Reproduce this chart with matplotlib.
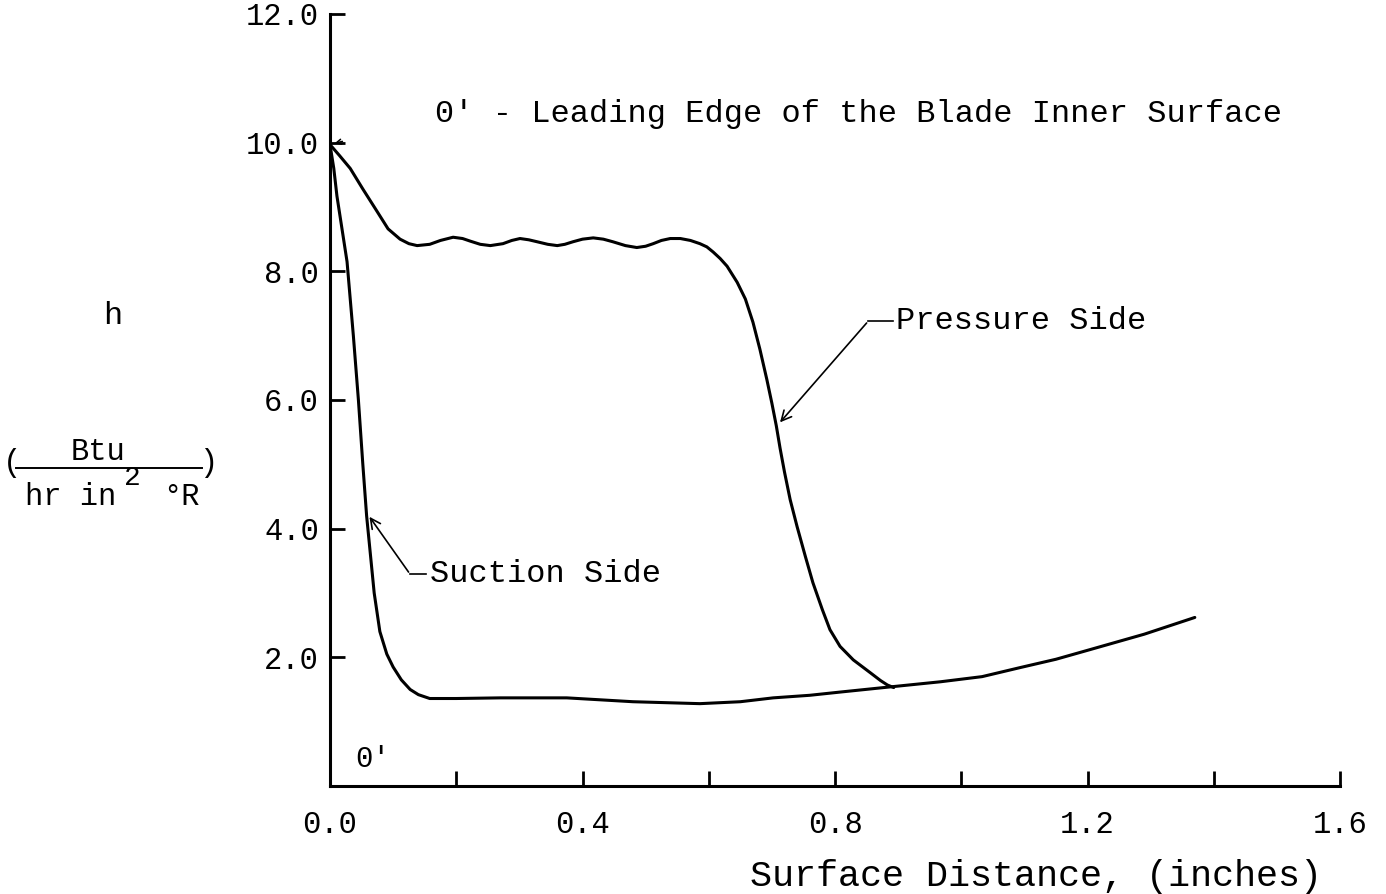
import matplotlib
matplotlib.use("Agg")
import matplotlib.pyplot as plt
from matplotlib.lines import Line2D

# data
suction_x = [0.0, 0.006, 0.011, 0.019, 0.027, 0.037, 0.045, 0.052, 0.058, 0.063,
             0.070, 0.079, 0.090, 0.100, 0.113, 0.127, 0.140, 0.158, 0.200, 0.270,
             0.375, 0.480, 0.586, 0.650, 0.702, 0.760, 0.808, 0.887, 0.967, 1.033,
             1.093, 1.150, 1.204, 1.290, 1.370]
suction_h = [9.97, 9.60, 9.17, 8.66, 8.15, 7.00, 6.00, 5.00, 4.20, 3.70,
             3.00, 2.40, 2.05, 1.85, 1.65, 1.50, 1.42, 1.36, 1.36, 1.37,
             1.37, 1.31, 1.28, 1.31, 1.37, 1.41, 1.46, 1.54, 1.62, 1.70,
             1.84, 1.97, 2.12, 2.36, 2.62]

pressure_x = [0.0, 0.015, 0.032, 0.052, 0.074, 0.092, 0.111, 0.125, 0.138, 0.158,
              0.175, 0.195, 0.210, 0.222, 0.238, 0.254, 0.274, 0.288, 0.301, 0.315,
              0.328, 0.345, 0.360, 0.372, 0.385, 0.400, 0.417, 0.433, 0.448, 0.468,
              0.486, 0.500, 0.512, 0.525, 0.539, 0.555, 0.571, 0.586, 0.597, 0.607,
              0.618, 0.629, 0.645, 0.658, 0.670, 0.681, 0.692, 0.700, 0.707, 0.713,
              0.720, 0.729, 0.740, 0.753, 0.765, 0.780, 0.792, 0.808, 0.829, 0.856,
              0.872, 0.883, 0.893]
pressure_h = [9.97, 9.80, 9.60, 9.28, 8.94, 8.66, 8.50, 8.43, 8.40, 8.42,
              8.48, 8.53, 8.51, 8.47, 8.42, 8.40, 8.43, 8.48, 8.51, 8.49,
              8.46, 8.42, 8.40, 8.42, 8.46, 8.50, 8.52, 8.50, 8.46, 8.40,
              8.37, 8.39, 8.43, 8.48, 8.51, 8.51, 8.48, 8.43, 8.38, 8.30,
              8.20, 8.08, 7.83, 7.57, 7.21, 6.79, 6.32, 5.95, 5.60, 5.25,
              4.88, 4.45, 4.03, 3.57, 3.16, 2.74, 2.43, 2.17, 1.96, 1.76,
              1.64, 1.57, 1.53]

x_ticks = [0.0, 0.2, 0.4, 0.6, 0.8, 1.0, 1.2, 1.4, 1.6]
x_labels = ["0.0", "", "0.4", "", "0.8", "", "1.2", "", "1.6"]
y_ticks = [2.0, 4.0, 6.0, 8.0, 10.0, 12.0]
y_labels = ["2.0", "4.0", "6.0", "8.0", "10.0", "12.0"]

FONT = "Liberation Mono"
W, H = 1386, 894
plt.rcParams['font.family'] = FONT

fig = plt.figure(figsize=(W / 100, H / 100), dpi=100)
ax = fig.add_axes([330 / W, 1 - 786 / H, 1010 / W, 772 / H])

ax.plot(suction_x, suction_h, color="black", lw=2.2,
        solid_capstyle="round", solid_joinstyle="round")
ax.plot(pressure_x, pressure_h, color="black", lw=2.2,
        solid_capstyle="round", solid_joinstyle="round")

ax.set_xlim(0, 1.6)
ax.set_ylim(0, 12)
ax.spines["top"].set_visible(False)
ax.spines["right"].set_visible(False)
ax.spines["left"].set_linewidth(2.2)
ax.spines["bottom"].set_linewidth(2.2)
ax.set_xticks(x_ticks)
ax.set_xticklabels(x_labels)
ax.set_yticks(y_ticks)
ax.set_yticklabels(y_labels)
ax.tick_params(axis="x", direction="in", length=11, width=2, pad=17, labelsize=22)
ax.tick_params(axis="y", direction="in", length=11, width=2, pad=8, labelsize=22)

# header note
ax.text(0.166, 10.45, "0' - Leading Edge of the Blade Inner Surface",
        fontsize=23, va="center", ha="left")
ax.annotate("", xy=(0.003, 9.98), xytext=(0.024, 10.03),
            arrowprops=dict(arrowstyle="->", lw=1.1, color="black", mutation_scale=9))

# leading edge mark near the origin
ax.text(0.040, 0.42, "0'", fontsize=21, va="center", ha="left")

# pressure side label
ax.annotate("", xy=(0.710, 5.62), xytext=(0.853, 7.23),
            arrowprops=dict(arrowstyle="->", lw=1.2, color="black", mutation_scale=18))
ax.plot([0.853, 0.892], [7.23, 7.23], color="black", lw=1.2)
ax.text(0.897, 7.23, "Pressure Side", fontsize=23, va="center", ha="left")

# suction side label
ax.annotate("", xy=(0.060, 4.22), xytext=(0.127, 3.29),
            arrowprops=dict(arrowstyle="->", lw=1.2, color="black", mutation_scale=18))
ax.plot([0.127, 0.152], [3.29, 3.29], color="black", lw=1.2)
ax.text(0.158, 3.29, "Suction Side", fontsize=23, va="center", ha="left")

# x axis title
fig.text(1036 / W, 1 - 876 / H, "Surface Distance, (inches)", fontsize=26.5,
         ha="center", va="center")

# y axis title built as a typed fraction
def fx(px):
    return px / W

def fy(py):
    return 1 - py / H

fig.text(fx(113), fy(316), "h", fontsize=23, ha="center", va="center")
fig.text(fx(98), fy(452), "Btu", fontsize=22, ha="center", va="center")
fig.add_artist(Line2D([fx(16), fx(202)], [fy(468), fy(468)], color="black", lw=1.4))
fig.text(fx(12), fy(463), "(", fontsize=22, ha="center", va="center")
fig.text(fx(208), fy(463), ")", fontsize=22, ha="center", va="center")
fig.text(fx(25), fy(497), "hr in", fontsize=22, ha="left", va="center")
fig.text(fx(132), fy(478), "2", fontsize=20, ha="center", va="center")
fig.text(fx(163), fy(497), "°R", fontsize=22, ha="left", va="center")

fig.savefig("out.png", dpi=100)
